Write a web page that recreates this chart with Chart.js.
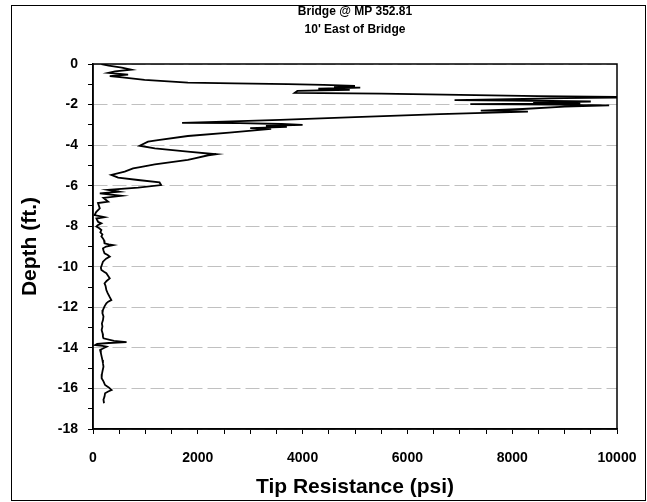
<!DOCTYPE html>
<html>
<head>
<meta charset="utf-8">
<script src="https://cdn.jsdelivr.net/npm/chart.js@4.4.1/dist/chart.umd.min.js"></script>
<style>
  body { margin: 0; background: #fff; }
  #wrap { position: relative; width: 647px; height: 502px; }
  #frame { position: absolute; left: 11px; top: 5px; width: 633px; height: 494px; border: 1px solid #000; pointer-events: none; }
</style>
</head>
<body>
<div id="wrap">
  <canvas id="chart" width="647" height="502"></canvas>
  <div id="frame"></div>
</div>
<script>
// CPT sounding
var titleLines = ["Bridge @ MP 352.81", "10' East of Bridge"];
var xTitle = "Tip Resistance (psi)";
var yTitle = "Depth (ft.)";

var tipPsi = [160, 300, 550, 730, 420, 290, 670, 320, 560, 985, 1810, 2700, 3720, 4400, 5000, 4600, 5100, 4300, 4900, 3900,
  3850, 5500, 7000, 8500, 10400, 9000, 6900, 8000, 9500, 8400, 9300, 7200, 8800, 9850, 9000, 8200, 7400, 8300, 6620, 5000,
  3570, 2500, 1700, 2800, 3600, 4000, 3300, 3700, 3000, 3400, 2600, 1810, 1240, 1050, 890, 1180, 1810, 2350, 2200, 1940,
  1810, 1180, 900, 765, 605, 350, 480, 860, 1270, 1300, 860, 290, 500, 130, 540, 200, 290, 95, 130, 60,
  30, 220, 65, 95,
  160, 90, 65, 120, 160, 140, 180, 160, 190, 210, 220, 300, 380, 250, 190, 200, 220, 280, 320, 250,
  190, 170, 150, 160, 210, 255, 290, 320, 260, 220, 240, 255, 280, 320, 350, 290, 255, 220, 190, 180,
  200, 190, 170, 180, 165, 185, 190, 200, 400, 640, 300, 80, 40, 180, 260, 200, 135, 150, 165, 180,
  190, 200, 185, 170, 165, 200, 230, 300, 355, 290, 230, 220, 200, 210];
var depthFt = [0, -0.08, -0.18, -0.28, -0.36, -0.44, -0.52, -0.6, -0.66, -0.78, -0.92, -0.96, -0.99, -1.03, -1.08, -1.12, -1.17, -1.22, -1.27, -1.33,
  -1.42, -1.46, -1.52, -1.58, -1.64, -1.68, -1.78, -1.8, -1.85, -1.9, -1.94, -1.98, -2.0, -2.04, -2.1, -2.22, -2.3, -2.35, -2.47, -2.62,
  -2.76, -2.84, -2.9, -2.92, -2.96, -3.0, -3.05, -3.1, -3.16, -3.2, -3.38, -3.55, -3.75, -3.83, -4.03, -4.16, -4.32, -4.45, -4.5, -4.65,
  -4.73, -4.95, -5.08, -5.15, -5.31, -5.47, -5.6, -5.72, -5.84, -5.97, -6.1, -6.21, -6.3, -6.38, -6.5, -6.6, -6.79, -6.86, -7.12, -7.3,
  -7.45, -7.55, -7.62, -7.78,
  -7.86, -7.95, -8.02, -8.1, -8.19, -8.3, -8.4, -8.5, -8.6, -8.7, -8.84, -8.9, -8.93, -9.0, -9.09, -9.2, -9.34, -9.42, -9.5, -9.6,
  -9.75, -9.9, -10.05, -10.16, -10.25, -10.32, -10.45, -10.57, -10.7, -10.82, -10.95, -11.15, -11.3, -11.5, -11.64, -11.72, -11.8, -11.95, -12.13, -12.3,
  -12.45, -12.63, -12.8, -12.95, -13.12, -13.3, -13.45, -13.53, -13.65, -13.72, -13.76, -13.8, -13.86, -13.9, -13.94, -14.02, -14.1, -14.25, -14.43, -14.6,
  -14.75, -14.93, -15.1, -15.3, -15.5, -15.65, -15.83, -15.95, -16.08, -16.15, -16.24, -16.4, -16.55, -16.73];

var xMin = 0, xMax = 10000, xMinorStep = 500, xMajorStep = 2000;
var yMin = -18, yMax = 0, yMinorStep = 1, yMajorStep = 2;

var points = tipPsi.map(function(v, i) {
  return { x: v, y: depthFt[i] };
});

Chart.defaults.font.family = "'Liberation Sans', Arial, sans-serif";
Chart.defaults.font.weight = 'bold';
Chart.defaults.color = '#000';

// box around the plot area
var plotFrame = {
  id: 'plotFrame',
  afterDraw: function(chart) {
    var a = chart.chartArea;
    var ctx = chart.ctx;
    ctx.save();
    ctx.strokeStyle = '#000';
    ctx.lineWidth = 1.5;
    ctx.strokeRect(a.left, a.top, a.right - a.left, a.bottom - a.top);
    ctx.restore();
  }
};

var ctx = document.getElementById('chart').getContext('2d');
var chart = new Chart(ctx, {
  type: 'scatter',
  data: {
    datasets: [{
      data: points,
      showLine: true,
      borderColor: '#000',
      borderWidth: 1.8,
      pointRadius: 0,
      tension: 0
    }]
  },
  options: {
    responsive: false,
    animation: false,
    layout: { padding: { left: 11, right: 30, top: 0, bottom: 2 } },
    plugins: {
      legend: { display: false },
      tooltip: { enabled: false },
      title: {
        display: true,
        text: titleLines,
        fullSize: false,
        color: '#000',
        font: { size: 12, weight: 'bold', lineHeight: 1.5 },
        padding: { top: 3, bottom: 25 }
      }
    },
    scales: {
      x: {
        type: 'linear',
        min: xMin,
        max: xMax,
        afterFit: function(s) { s.height = 71; s.paddingLeft = 0; s.paddingRight = 0; },
        ticks: {
          stepSize: xMinorStep,
          autoSkip: false,
          maxRotation: 0,
          padding: 16,
          font: { size: 14, weight: 'bold' },
          callback: function(v) { return v % xMajorStep === 0 ? String(v) : ''; }
        },
        grid: { drawOnChartArea: false, tickColor: '#000', tickLength: 5 },
        border: { color: '#000', width: 1.5 },
        title: { display: true, text: xTitle, font: { size: 21, weight: 'bold' }, padding: { top: 0, bottom: 0 } }
      },
      y: {
        type: 'linear',
        min: yMin,
        max: yMax,
        afterFit: function(s) { s.width = 82; s.paddingTop = 0; s.paddingBottom = 0; },
        ticks: {
          stepSize: yMinorStep,
          autoSkip: false,
          padding: 10,
          font: { size: 14, weight: 'bold' },
          callback: function(v) { return v % yMajorStep === 0 ? String(v) : ''; }
        },
        grid: {
          color: function(c) { return c.tick && c.tick.value % yMajorStep === 0 ? '#c0c0c0' : 'rgba(0,0,0,0)'; },
          tickColor: '#000',
          tickLength: 5,
          lineWidth: 1
        },
        border: { color: '#000', width: 1.5, dash: [14, 5] },
        title: { display: true, text: yTitle, font: { size: 21, weight: 'bold' }, padding: { top: 7, bottom: 0 } }
      }
    }
  },
  plugins: [plotFrame]
});
</script>
</body>
</html>
